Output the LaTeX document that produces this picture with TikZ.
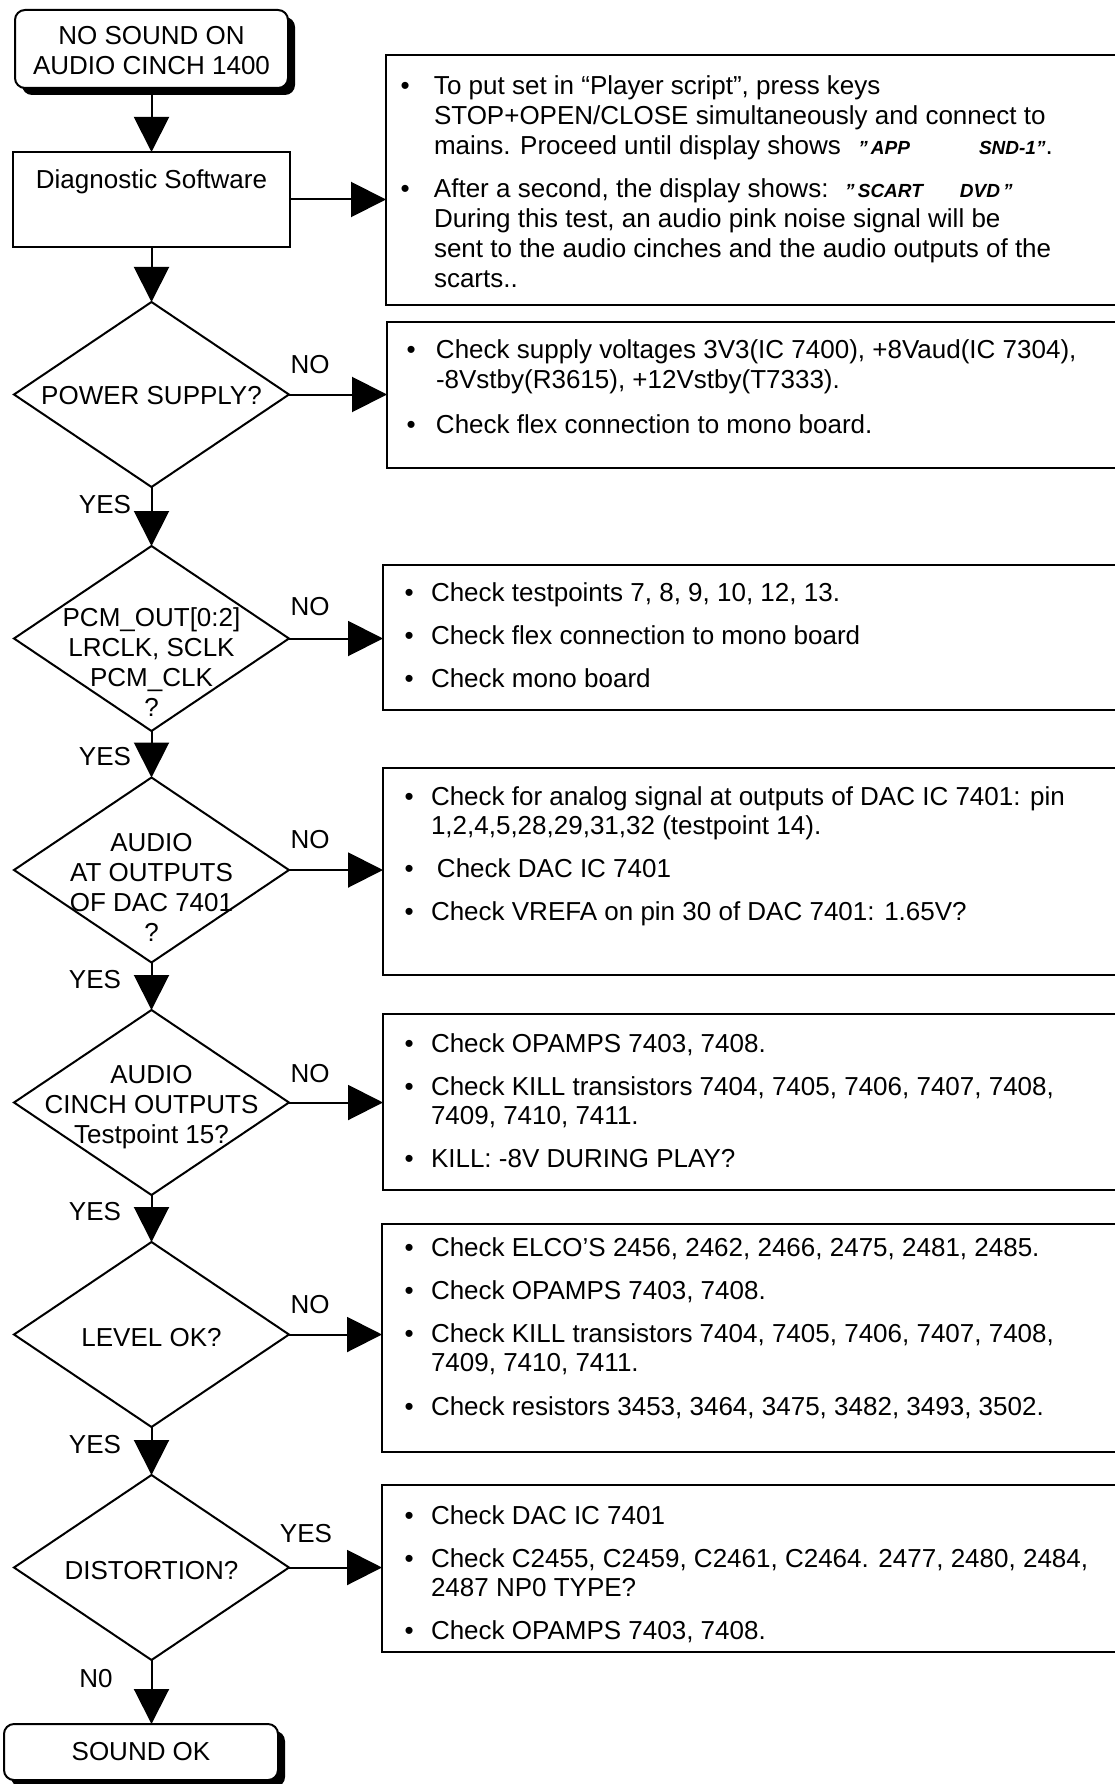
\documentclass[tikz,border=0pt]{standalone}
\usepackage{fontspec}
\setmainfont{Liberation Sans}
\usetikzlibrary{arrows.meta,shapes.geometric,shadows}
\newlength\bulw
\newcommand\bitem[1]{\hangindent=\bulw\hangafter=1\noindent\makebox[\bulw][l]{•}#1\par}
\newcommand\disp[1]{{\fontsize{19}{21}\selectfont\bfseries\itshape #1}}
\begin{document}
\begin{tikzpicture}[x=1pt,y=-1pt,
  every node/.style={inner sep=0pt,outer sep=0pt},
  lbl/.style={anchor=base,font=\fontsize{26}{30}\selectfont},
  btxt/.style={anchor=base west,font=\fontsize{26}{29.5}\selectfont},
  arr/.style={line width=2pt,-{Triangle[length=35pt,width=35pt]}},
  decision/.style={draw,diamond,line width=2pt,minimum width=275pt,minimum height=185pt},
  terminal/.style={draw,rounded corners=10pt,line width=2pt,fill=white,
    drop shadow={shadow xshift=7pt,shadow yshift=-7pt,fill=black,opacity=1}},
  infobox/.style={draw,line width=2.5pt,anchor=north west,minimum width=760pt},
  procbox/.style={draw,line width=2.5pt}
]
\useasboundingbox (0,0) rectangle (1114,1784);
\fill[white] (0,0) rectangle (1114,1784);

% left column
\node[terminal,minimum width=273pt,minimum height=78pt] (start) at (151.5,49) {};
\node[lbl] (starttxt) at (151.5,45) {\parbox[t]{300pt}{\centering NO SOUND ON\\AUDIO CINCH 1400}};
\node[procbox,minimum width=277pt,minimum height=95pt] (diag) at (151.5,199.5) {};
\node[lbl] (diagtxt) at (151.5,189) {Diagnostic Software};

\node[decision] (d1) at (151.5,394.5) {};
\node[lbl] (d1t) at (151.5,404) {POWER SUPPLY?};
\node[decision] (d2) at (151.5,638.5) {};
\node[lbl] (d2t) at (151.5,626) {\parbox[t]{300pt}{\centering PCM\_OUT[0:2]\\LRCLK, SCLK\\PCM\_CLK\\?}};
\node[decision] (d3) at (151.5,870) {};
\node[lbl] (d3t) at (151.5,851.5) {\parbox[t]{300pt}{\centering AUDIO\\AT OUTPUTS\\OF DAC 7401\\?}};
\node[decision] (d4) at (151.5,1102.5) {};
\node[lbl] (d4t) at (151.5,1083) {\parbox[t]{300pt}{\centering AUDIO\\CINCH OUTPUTS\\Testpoint 15?}};
\node[decision] (d5) at (151.5,1334.5) {};
\node[lbl] (d5t) at (151.5,1346.5) {LEVEL OK?};
\node[decision] (d6) at (151.5,1567.5) {};
\node[lbl] (d6t) at (151.5,1579.5) {DISTORTION?};
\node[terminal,minimum width=274pt,minimum height=56pt] (stop) at (141,1752) {};
\node[lbl] (stoptxt) at (141,1760) {SOUND OK};

% branch labels
\node[lbl] (no1) at (310,373) {NO};
\node[lbl] (no2) at (310,615) {NO};
\node[lbl] (no3) at (310,848) {NO};
\node[lbl] (no4) at (310,1082) {NO};
\node[lbl] (no5) at (310,1313) {NO};
\node[lbl] (yes6) at (306,1542) {YES};
\node[lbl] (yes1) at (105,513) {YES};
\node[lbl] (yes2) at (105,765) {YES};
\node[lbl] (yes3) at (95,988) {YES};
\node[lbl] (yes4) at (95,1220) {YES};
\node[lbl] (yes5) at (95,1453) {YES};
\node[lbl] (no6) at (96,1687) {N0};

% right boxes
\node[infobox,minimum height=250pt] (b1) at (386,55) {};
\node[infobox,minimum height=146pt] (b2) at (387,322) {};
\node[infobox,minimum height=145pt] (b3) at (383,565) {};
\node[infobox,minimum height=207pt] (b4) at (383,768) {};
\node[infobox,minimum height=176pt] (b5) at (383,1014) {};
\node[infobox,minimum height=228pt] (b6) at (382,1224) {};
\node[infobox,minimum height=167pt] (b7) at (382,1485) {};

\node[btxt] (t1) at (400.5,94.5) {\parbox[t]{700pt}{\setlength\bulw{33.5pt}\setlength\parskip{13pt}\fontsize{26}{30}\selectfont
\bitem{To put set in “Player script”, press keys\newline STOP+OPEN/CLOSE simultaneously and connect to\newline mains. Proceed until display shows \hspace{10pt}\disp{"\,APP}\hspace{69pt}\disp{SND-1"}.}
\bitem{After a second, the display shows: \hspace{7pt}\disp{"\,SCART}\hspace{37pt}\disp{DVD\,"}\newline During this test, an audio pink noise signal will be\newline sent to the audio cinches and the audio outputs of the\newline scarts..}}};

\node[btxt] (t2) at (406.5,358) {\parbox[t]{700pt}{\setlength\bulw{29.5pt}\setlength\parskip{15pt}\fontsize{26}{30}\selectfont
\bitem{Check supply voltages 3V3(IC 7400), +8Vaud(IC 7304),\newline -8Vstby(R3615), +12Vstby(T7333).}
\bitem{Check flex connection to mono board.}}};

\node[btxt] (t3) at (404.5,601) {\parbox[t]{700pt}{\setlength\bulw{26.5pt}\setlength\parskip{13.7pt}\fontsize{26}{29.5}\selectfont
\bitem{Check testpoints 7, 8, 9, 10, 12, 13.}
\bitem{Check flex connection to mono board}
\bitem{Check mono board}}};

\node[btxt] (t4) at (404.5,805) {\parbox[t]{700pt}{\setlength\bulw{26.5pt}\setlength\parskip{13.7pt}\fontsize{26}{29.5}\selectfont
\bitem{Check for analog signal at outputs of DAC IC 7401: pin\newline 1,2,4,5,28,29,31,32 (testpoint 14).}
\bitem{\hspace{6pt}Check DAC IC 7401}
\bitem{Check VREFA on pin 30 of DAC 7401: 1.65V?}}};

\node[btxt] (t5) at (404.5,1052) {\parbox[t]{700pt}{\setlength\bulw{26.5pt}\setlength\parskip{13.7pt}\fontsize{26}{29.5}\selectfont
\bitem{Check OPAMPS 7403, 7408.}
\bitem{Check KILL transistors 7404, 7405, 7406, 7407, 7408,\newline 7409, 7410, 7411.}
\bitem{KILL: -8V DURING PLAY?}}};

\node[btxt] (t6) at (404.5,1256) {\parbox[t]{700pt}{\setlength\bulw{26.5pt}\setlength\parskip{13.7pt}\fontsize{26}{29.5}\selectfont
\bitem{Check ELCO'S 2456, 2462, 2466, 2475, 2481, 2485.}
\bitem{Check OPAMPS 7403, 7408.}
\bitem{Check KILL transistors 7404, 7405, 7406, 7407, 7408,\newline 7409, 7410, 7411.}
\bitem{Check resistors 3453, 3464, 3475, 3482, 3493, 3502.}}};

\node[btxt] (t7) at (404.5,1524) {\parbox[t]{700pt}{\setlength\bulw{26.5pt}\setlength\parskip{13.7pt}\fontsize{26}{29.5}\selectfont
\bitem{Check DAC IC 7401}
\bitem{Check C2455, C2459, C2461, C2464. 2477, 2480, 2484,\newline 2487 NP0 TYPE?}
\bitem{Check OPAMPS 7403, 7408.}}};

% connectors
\draw[arr] (start.south) -- (diag.north);
\draw[arr] (diag.east) -- (diag.east -| b1.west);
\draw[arr] (diag.south) -- (d1.north);
\draw[arr] (d1.east) -- (d1.east -| b2.west);
\draw[arr] (d1.south) -- (d2.north);
\draw[arr] (d2.east) -- (d2.east -| b3.west);
\draw[arr] (d2.south) -- (d3.north);
\draw[arr] (d3.east) -- (d3.east -| b4.west);
\draw[arr] (d3.south) -- (d4.north);
\draw[arr] (d4.east) -- (d4.east -| b5.west);
\draw[arr] (d4.south) -- (d5.north);
\draw[arr] (d5.east) -- (d5.east -| b6.west);
\draw[arr] (d5.south) -- (d6.north);
\draw[arr] (d6.east) -- (d6.east -| b7.west);
\draw[arr] (d6.south) -- (d6.south |- stop.north);
\end{tikzpicture}
\end{document}
